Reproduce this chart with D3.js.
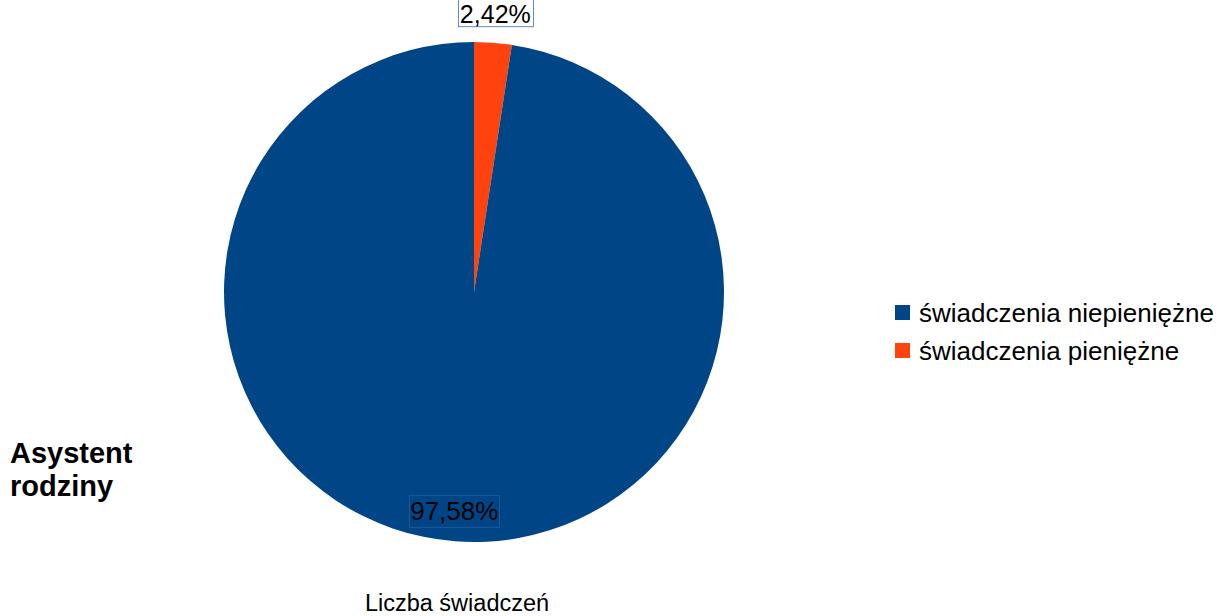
<!DOCTYPE html>
<html><head><meta charset="utf-8">
<script src="https://cdn.jsdelivr.net/npm/d3@7"></script>
<style>body{margin:0;background:#fff}svg{display:block}text{font-family:"Liberation Sans",Arial,sans-serif}</style>
</head><body><svg id="c" width="1231" height="616"></svg>
<script>
const categories = ["świadczenia niepieniężne", "świadczenia pieniężne"];
const values = [97.58, 2.42];
const labels = ["97,58%", "2,42%"];
const colors = ["#004586", "#ff420e"];
const title = ["Asystent", "rodziny"];
const xTitle = "Liczba świadczeń";

const svg = d3.select("#c");
const cx = 474, cy = 292, r = 250;
const data = categories.map((c,i)=>({c, v:values[i], l:labels[i], col:colors[i]}));
const pie = d3.pie().sort(null).value(d=>d.v).startAngle(0).endAngle(2*Math.PI);
const arcsData = pie([data[1], data[0]]);
const arc = d3.arc().innerRadius(0).outerRadius(r);
const g = svg.append("g").attr("transform", `translate(${cx},${cy})`);
g.selectAll("path").data(arcsData).join("path").attr("d", arc).attr("fill", d=>d.data.col);

const lab = svg.append("g");
const big = arcsData[1];
const bigMid = (big.startAngle + big.endAngle)/2;
const bx = cx + Math.sin(bigMid)*(r-30) - 3, by = cy - Math.cos(bigMid)*(r-30);
lab.append("rect").attr("x", bx-45).attr("y", by-16).attr("width", 90).attr("height", 32)
  .attr("fill","none").attr("stroke","#3a6ea5").attr("stroke-width",0.8).attr("opacity",0.6);
lab.append("text").attr("x", bx).attr("y", by+9).attr("text-anchor","middle")
  .attr("font-size", 26).attr("fill","#000").text(big.data.l);

const sm = arcsData[0];
const smMid = (sm.startAngle + sm.endAngle)/2;
const sx = cx + Math.sin(smMid)*(r+5) + 2, sy = cy - Math.cos(smMid)*(r+5) - 26;
lab.append("rect").attr("x", sx-37).attr("y", sy-30).attr("width", 75).attr("height", 45)
  .attr("fill","none").attr("stroke","#3a6ea5").attr("stroke-width",0.8);
lab.append("text").attr("x", sx).attr("y", sy+11).attr("text-anchor","middle")
  .attr("font-size", 26).attr("textLength", 71).attr("lengthAdjust","spacingAndGlyphs")
  .attr("fill","#000").text(sm.data.l);

const leg = svg.append("g").attr("transform","translate(895,305)");
const li = leg.selectAll("g").data(data).join("g").attr("transform",(d,i)=>`translate(0,${i*38})`);
li.append("rect").attr("width",15).attr("height",15).attr("fill",d=>d.col);
li.append("text").attr("x",24).attr("y",17).attr("font-size",26).attr("fill","#000").text(d=>d.c);

svg.append("g").selectAll("text").data(title).join("text")
  .attr("x",10).attr("y",(d,i)=>463+i*33).attr("font-size",29).attr("font-weight","bold").attr("fill","#000").text(d=>d);

svg.append("text").attr("x",457).attr("y",611).attr("text-anchor","middle").attr("font-size",23.5).attr("fill","#000").text(xTitle);
</script></body></html>
